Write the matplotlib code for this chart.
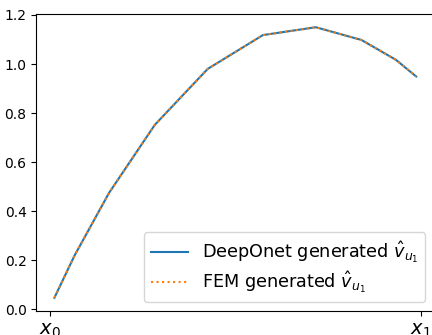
import matplotlib
matplotlib.use("Agg")
import matplotlib.pyplot as plt

# Sample locations on [x0, x1] and the two solution profiles
x_nodes = [0.013, 0.0675, 0.1603, 0.2833, 0.4256, 0.5744, 0.7167, 0.8397, 0.9325, 0.987]
v_deeponet = [0.047, 0.220, 0.475, 0.752, 0.980, 1.118, 1.150, 1.098, 1.017, 0.949]
v_fem = [0.047, 0.220, 0.475, 0.752, 0.980, 1.118, 1.150, 1.098, 1.017, 0.949]
x_ticks = [0.0, 1.0]
x_tick_labels = [r"$x_0$", r"$x_1$"]

fig = plt.figure(figsize=(4.32, 3.35), dpi=100)
ax = fig.add_axes([36.3 / 432, (335 - 311.3) / 335, 398 / 432, 297.6 / 335])

ax.plot(x_nodes, v_deeponet, color="C0", linestyle="-", label=r"DeepOnet generated $\hat{v}_{u_1}$")
ax.plot(x_nodes, v_fem, color="C1", linestyle=":", label=r"FEM generated $\hat{v}_{u_1}$")

ax.set_xticks(x_ticks)
ax.set_xticklabels(x_tick_labels, fontsize=14)
ax.set_yticks([0.0, 0.2, 0.4, 0.6, 0.8, 1.0, 1.2])

ax.legend(loc="lower right", fontsize=12.7, labelspacing=0.25, handlelength=2.1,
          borderaxespad=0.5)

fig.savefig("out.png", dpi=100)
